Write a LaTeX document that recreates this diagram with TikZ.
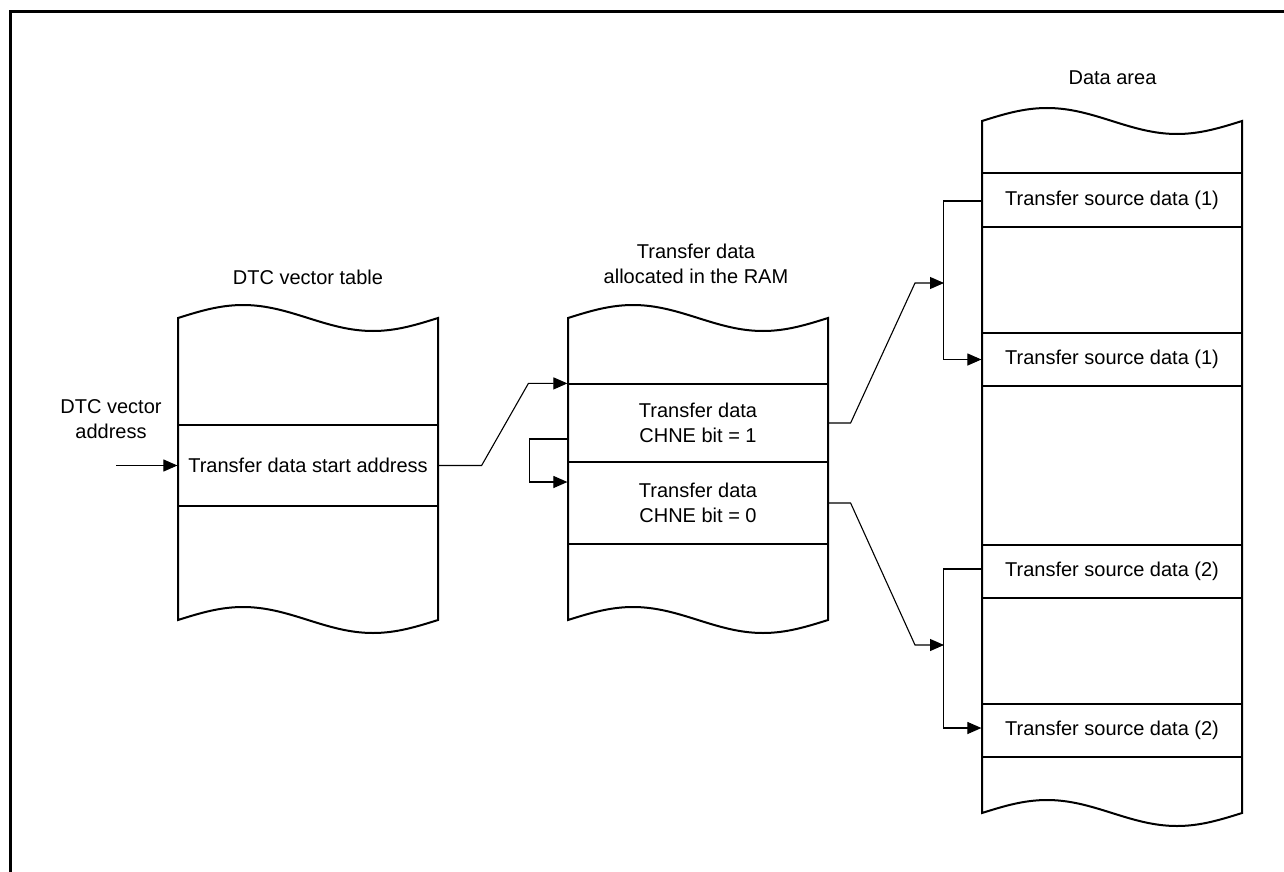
\documentclass[tikz,border=0pt]{standalone}
\usepackage{fontspec}
\setmainfont{Liberation Sans}
\usetikzlibrary{arrows.meta,calc}
\newcommand\tapeoutline[3]{%
  \draw[outline] (#1,#2) sin ++(65,-13) cos ++(65,13) sin ++(65,13) cos ++(65,-13)
    -- ++(0,{#3-#2}) sin ++(-65,13) cos ++(-65,-13) sin ++(-65,-13) cos ++(-65,13) -- cycle;}
\begin{document}
\begin{tikzpicture}[x=1pt,y=-1pt,
  txt/.style={font=\fontsize{20}{25}\selectfont, align=center, inner sep=0pt},
  row/.style={txt, draw, line width=1.2pt, minimum width=260pt},
  outline/.style={line width=2pt, line join=miter},
  conn/.style={line width=1.1pt},
  arr/.style={conn, -{Triangle[length=14pt,width=12pt]}},
  frame/.style={line width=3pt}]
\useasboundingbox (0,0) rectangle (1284,872);
\draw[frame] (10.5,880) -- (10.5,11.5) -- (1290,11.5);

% titles
\node[txt] (t1) at (308,277.7) {DTC vector table};
\node[txt] (t2) at (696,264) {Transfer data\\allocated in the RAM};
\node[txt] (t3) at (1112.5,77.7) {Data area};
\node[txt] (vaddr) at (111,419) {DTC vector\\address};

% rows
\node[row, minimum height=81pt] (vec) at (308,465.5) {Transfer data start address};
\node[row, minimum height=78pt] (mid1) at (698,423) {Transfer data\\CHNE bit = 1};
\node[row, minimum height=82pt] (mid2) at (698,503) {Transfer data\\CHNE bit = 0};
\node[row, minimum height=54pt] (src1a) at (1112,200) {Transfer source data (1)};
\node[row, minimum height=53pt] (src1b) at (1112,359.5) {Transfer source data (1)};
\node[row, minimum height=53pt] (src2a) at (1112,571.5) {Transfer source data (2)};
\node[row, minimum height=53pt] (src2b) at (1112,730.5) {Transfer source data (2)};

% box outlines
\tapeoutline{178}{318}{620}
\tapeoutline{568}{318}{620}
\tapeoutline{982}{121}{813}

% connectors
\coordinate (vin) at (116,465.5);
\coordinate (j1) at (944,283);
\coordinate (j2) at (944,645);
\draw[arr] (vin) -- (vec.west);
\draw[arr] (vec.east) -- ++(43,0) -- ($(mid1.north west)+(-39,0)$) -- (mid1.north west);
\draw[arr] ($(mid1.west)+(0,16)$) -- ++(-38,0) |- ($(mid2.west)+(0,-21)$);
\draw[arr] (mid1.east) -- ++(22,0) -- ($(j1)+(-29,0)$) -- (j1);
\draw[arr] (mid2.east) -- ++(22,0) -- ($(j2)+(-29,0)$) -- (j2);
\draw[arr] ($(src1a.west)+(0,1)$) -- ++(-38,0) |- (src1b.west);
\draw[arr] ($(src2a.west)+(0,-2.5)$) -- ++(-38,0) |- ($(src2b.west)+(0,-2.5)$);
\end{tikzpicture}
\end{document}
